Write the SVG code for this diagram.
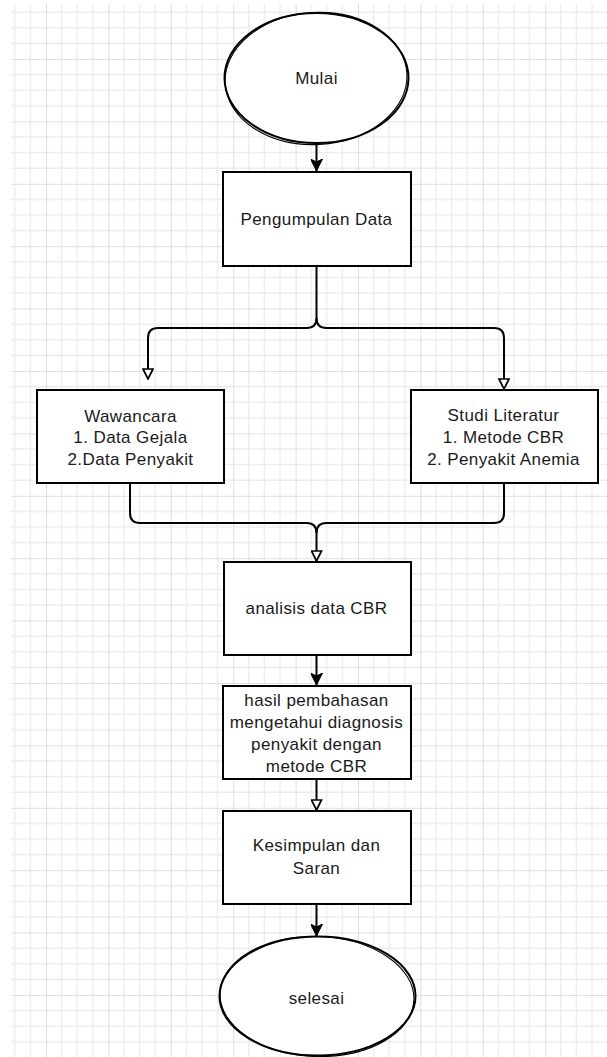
<svg xmlns="http://www.w3.org/2000/svg" width="607" height="1057" viewBox="0 0 607 1057">
<style>
.node{fill:#fff;stroke:#000;stroke-width:2}
.sk{fill:none;stroke:#000;stroke-width:1.1}
.conn{fill:none;stroke:#000;stroke-width:2}
text{font-family:"Liberation Sans",Arial,sans-serif;font-size:17px;letter-spacing:0.4px;fill:#1a1a1a;text-anchor:middle}
</style>
<defs>
<pattern id="grid" patternUnits="userSpaceOnUse" x="46" y="59" width="62.4" height="62.4">
<path d="M15.6,0V62.4M31.2,0V62.4M46.8,0V62.4M0,15.6H62.4M0,31.2H62.4M0,46.8H62.4" stroke="#ebebeb" stroke-width="1.3" fill="none"/>
<path d="M0,0V62.4M0,0H62.4" stroke="#d6d6d6" stroke-width="1.6" fill="none"/>
</pattern>
<marker id="filled" markerUnits="userSpaceOnUse" viewBox="0 0 12 12" refX="12" refY="6" markerWidth="12" markerHeight="12" orient="auto">
<path d="M0,0L12,6L0,12L3,6z" fill="#000" stroke="#000" stroke-width="1"/>
</marker>
<marker id="open" markerUnits="userSpaceOnUse" viewBox="0 0 12 12" refX="11" refY="6" markerWidth="12" markerHeight="12" orient="auto">
<path d="M1,1L11,6L1,11z" fill="#fff" stroke="#000" stroke-width="1.7"/>
</marker>
</defs>
<rect x="0" y="0" width="607" height="1057" fill="#fff"/>
<rect x="11" y="4" width="596" height="1053" fill="url(#grid)"/>
<g id="connectors">
<path class="conn" d="M316.5,143L316.5,171" marker-end="url(#filled)"/>
<path class="conn" d="M316.5,266L316.5,318Q316.5,328 306.5,328L158,328Q148,328 148,338L148,379" marker-end="url(#open)"/>
<path class="conn" d="M316.5,318Q316.5,328 326.5,328L494,328Q504,328 504,338L504,389" marker-end="url(#open)"/>
<path class="conn" d="M130,483L130,513Q130,523 140,523L306.5,523Q316.5,523 316.5,533L316.5,561" marker-end="url(#open)"/>
<path class="conn" d="M504,483L504,513Q504,523 494,523L326.5,523Q316.5,523 316.5,533"/>
<path class="conn" d="M316.5,655L316.5,685" marker-end="url(#filled)"/>
<path class="conn" d="M316.5,779L316.5,810" marker-end="url(#open)"/>
<path class="conn" d="M316.5,904L316.5,936" marker-end="url(#filled)"/>
</g>
<g id="mulai">
<ellipse class="node" cx="316.5" cy="78" rx="92" ry="65"/>
<ellipse class="sk" cx="316" cy="78.5" rx="91" ry="66" transform="rotate(-3 316 78)"/>
<text x="316.5" y="83.5">Mulai</text>
</g>
<g id="pengumpulan">
<rect class="node" x="223" y="172" width="188" height="94"/>
<text x="316.5" y="225">Pengumpulan Data</text>
</g>
<g id="wawancara">
<rect class="node" x="37" y="390" width="187" height="93"/>
<text x="130.5" y="421.5">Wawancara</text>
<text x="130.5" y="443.2">1. Data Gejala</text>
<text x="130.5" y="465">2.Data Penyakit</text>
</g>
<g id="studi">
<rect class="node" x="411" y="390" width="187" height="93"/>
<text x="503.5" y="421">Studi Literatur</text>
<text x="503.5" y="443">1. Metode CBR</text>
<text x="503.5" y="465">2. Penyakit Anemia</text>
</g>
<g id="analisis">
<rect class="node" x="224" y="562" width="187" height="93"/>
<text x="316.5" y="613.5">analisis data CBR</text>
</g>
<g id="hasil">
<rect class="node" x="223" y="686" width="188" height="93"/>
<text x="316.5" y="705.5">hasil pembahasan</text>
<text x="316.5" y="727.5">mengetahui diagnosis</text>
<text x="316.5" y="749.5">penyakit dengan</text>
<text x="316.5" y="771.5">metode CBR</text>
</g>
<g id="kesimpulan">
<rect class="node" x="223" y="811" width="188" height="93"/>
<text x="316.5" y="851">Kesimpulan dan</text>
<text x="316.5" y="874">Saran</text>
</g>
<g id="selesai">
<ellipse class="node" cx="317.5" cy="996" rx="98" ry="59.5"/>
<ellipse class="sk" cx="317" cy="996.5" rx="97" ry="60" transform="rotate(2 317 996)"/>
<text x="316.5" y="1004">selesai</text>
</g>
</svg>
